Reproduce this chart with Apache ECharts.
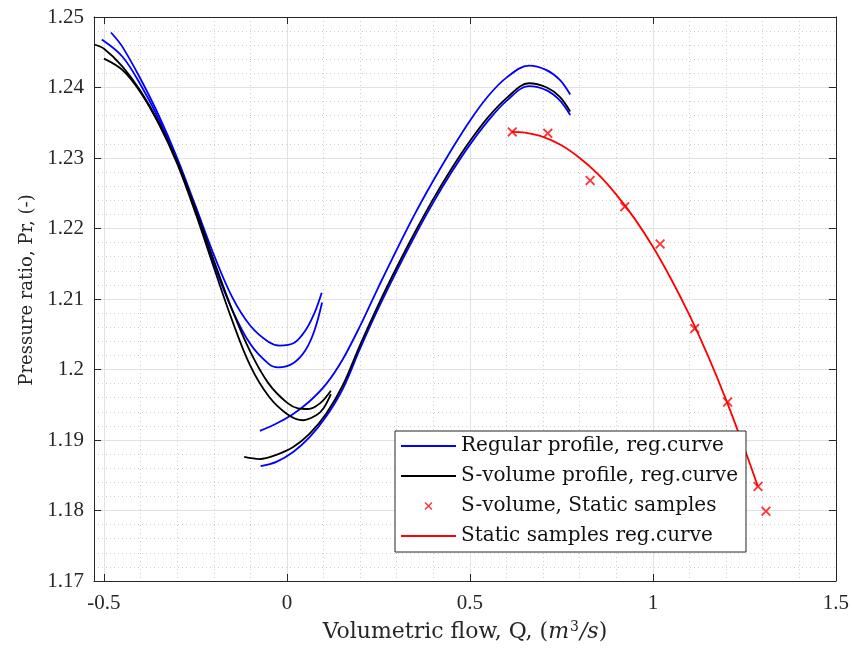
<!DOCTYPE html>
<html><head><meta charset="utf-8">
<script src="https://cdn.jsdelivr.net/npm/echarts@6/dist/echarts.min.js"></script>
<style>html,body{margin:0;padding:0;background:#fff}#c{width:852px;height:648px}</style>
</head><body><div id="c"></div>
<script>
// ---- data ----
const xAxisRange = [-0.5273, 1.5];
const yAxisRange = [1.17, 1.25];

// Regular profile (blue), left branches
const regUpperLeftX = [-0.481,-0.45,-0.40,-0.35,-0.30,-0.25,-0.20,-0.15,-0.10,-0.05,-0.02,0.02,0.05,0.075,0.095];
const regUpperLeftY = [1.2478,1.2458,1.2412,1.2360,1.2300,1.2232,1.2163,1.2103,1.2062,1.2039,1.2034,1.2038,1.2055,1.2080,1.2109];
const regLowerLeftX = [-0.506,-0.45,-0.40,-0.35,-0.30,-0.25,-0.20,-0.15,-0.10,-0.05,-0.024,0.017,0.05,0.075,0.096];
const regLowerLeftY = [1.2468,1.2444,1.2404,1.2355,1.2296,1.2225,1.2150,1.2085,1.2036,1.2008,1.2003,1.2009,1.2027,1.2055,1.2095];
// Regular profile (blue), right branches
const regUpperRightX = [-0.074,-0.03,0.017,0.062,0.108,0.153,0.20,0.25,0.30,0.35,0.40,0.45,0.50,0.55,0.60,0.661,0.708,0.745,0.774];
const regUpperRightY = [1.1913,1.1923,1.1937,1.1955,1.1980,1.2015,1.2062,1.2117,1.2170,1.2221,1.2268,1.2312,1.2353,1.2388,1.2414,1.2431,1.2425,1.2411,1.2390];
const regLowerRightX = [-0.072,-0.029,0.017,0.062,0.108,0.153,0.20,0.25,0.30,0.35,0.40,0.45,0.50,0.55,0.60,0.661,0.71,0.745,0.774];
const regLowerRightY = [1.1863,1.1869,1.1883,1.1904,1.1934,1.1973,1.2030,1.2087,1.2140,1.2190,1.2237,1.2280,1.2319,1.2353,1.2381,1.2402,1.2396,1.2382,1.2361];

// S-volume profile (black)
const svolAleftX = [-0.527,-0.50,-0.45,-0.40,-0.35,-0.30,-0.25,-0.20,-0.15,-0.10,-0.05,0.00,0.03,0.058,0.09,0.12];
const svolAleftY = [1.2461,1.2455,1.2430,1.2395,1.2350,1.2295,1.2228,1.2155,1.2085,1.2025,1.1980,1.1953,1.1945,1.1944,1.1952,1.1970];
const svolBleftX = [-0.500,-0.45,-0.40,-0.35,-0.30,-0.25,-0.20,-0.15,-0.10,-0.05,0.00,0.044,0.08,0.10,0.12];
const svolBleftY = [1.2441,1.2425,1.2393,1.2348,1.2292,1.2222,1.2145,1.2070,1.2005,1.1962,1.1937,1.1928,1.1935,1.1945,1.1965];
const svolRightX = [-0.117,-0.074,-0.029,0.017,0.062,0.108,0.153,0.20,0.25,0.30,0.35,0.40,0.45,0.50,0.55,0.60,0.661,0.71,0.745,0.774];
const svolRightY = [1.1876,1.1873,1.1879,1.1890,1.1909,1.1938,1.1978,1.2035,1.2092,1.2145,1.2195,1.2242,1.2285,1.2324,1.2358,1.2385,1.2406,1.2400,1.2387,1.2366];

// Static samples (red crosses)
const sampleX = [0.6156,0.7128,0.8285,0.9231,1.0197,1.1141,1.2042,1.2872,1.3090];
const sampleY = [1.2337,1.2335,1.2268,1.2231,1.2178,1.2058,1.1954,1.1834,1.1799];
// Static samples regression curve (red)
const staticCurveX = [0.615,0.65,0.70,0.75,0.80,0.85,0.90,0.95,1.00,1.05,1.10,1.15,1.20,1.25,1.287];
const staticCurveY = [1.2337,1.2336,1.2330,1.2318,1.2300,1.2277,1.2248,1.2214,1.2174,1.2128,1.2077,1.2020,1.1957,1.1888,1.1834];

const names = ['Regular profile, reg.curve','S-volume profile, reg.curve','S-volume, Static samples','Static samples reg.curve'];

// ---- build ----
const zip = (xs, ys) => xs.map((x, i) => [x, ys[i]]);
const crossPath = 'path://M0,1.3L1.3,0L5,3.7L8.7,0L10,1.3L6.3,5L10,8.7L8.7,10L5,6.3L1.3,10L0,8.7L3.7,5Z';
const crossLegend = 'path://M-4,-4M14,14M0,1.3L1.3,0L5,3.7L8.7,0L10,1.3L6.3,5L10,8.7L8.7,10L5,6.3L1.3,10L0,8.7L3.7,5Z';
const lineLegend = 'path://M0,0M55,14M0,6.1H55V7.9H0Z';

function line(name, color, xs, ys) {
  return {
    type: 'line', name, data: zip(xs, ys), showSymbol: false, symbol: 'none',
    smooth: 0.35, lineStyle: { color, width: 1.8 }, itemStyle: { color },
    emphasis: { disabled: true }, silent: true, z: 3
  };
}

const AX = '#262626';
const serif = 'Liberation Serif';
const tSerif = 'DejaVu Serif';

const baseX = {
  type: 'value', min: xAxisRange[0], max: xAxisRange[1],
  axisLine: { show: true, onZero: false, lineStyle: { color: AX, width: 1 } },
  axisTick: { show: true, inside: true, length: 7, lineStyle: { color: AX } },
  minorTick: { show: false, splitNumber: 5 },
};
const baseY = {
  type: 'value', min: yAxisRange[0], max: yAxisRange[1], interval: 0.01,
  axisLine: { show: true, onZero: false, lineStyle: { color: AX, width: 1 } },
  axisTick: { show: true, inside: true, length: 7, lineStyle: { color: AX } },
  minorTick: { show: false, splitNumber: 5 },
};

const chart = echarts.init(document.getElementById('c'), null, { renderer: 'canvas' });
chart.setOption({
  animation: false,
  backgroundColor: '#fff',
  grid: { left: 94, right: 15, top: 17, bottom: 67, containLabel: false },
  xAxis: [
    Object.assign({}, baseX, {
      position: 'bottom',
      name: '{t|Volumetric flow, Q, (}{i|m}{s|3}{i|/s}{t|)}',
      nameLocation: 'middle', nameGap: 39,
      nameTextStyle: { rich: {
        t: { fontFamily: tSerif, fontSize: 22, color: '#262626' },
        i: { fontFamily: tSerif, fontStyle: 'italic', fontSize: 22, color: '#262626' },
        s: { fontFamily: tSerif, fontSize: 14, color: '#262626', verticalAlign: 'top', padding: [0, 1, 10, 1] }
      } },
      axisLabel: {
        show: true, margin: 12, fontFamily: serif, fontSize: 21, color: '#262626',
        showMinLabel: false,
        formatter: v => (Math.abs(v * 2 - Math.round(v * 2)) > 1e-6 ? '' : String(+v.toFixed(2)))
      },
      splitLine: { show: true, lineStyle: { color: '#e2e2e2', width: 1 } },
      minorSplitLine: { show: true, lineStyle: { color: '#cdcdcd', width: 1, type: [1, 3] } }
    }),
    Object.assign({}, baseX, {
      position: 'top', axisLabel: { show: false }, splitLine: { show: false }, minorSplitLine: { show: false }
    })
  ],
  yAxis: [
    Object.assign({}, baseY, {
      position: 'left',
      name: 'Pressure ratio, Pr, (-)', nameLocation: 'middle', nameGap: 58,
      nameTextStyle: { fontFamily: tSerif, fontSize: 18, color: '#262626', padding: [0, 0, 0, 18] },
      axisLabel: { show: true, margin: 10, fontFamily: serif, fontSize: 21, color: '#262626' },
      splitLine: { show: true, lineStyle: { color: '#e2e2e2', width: 1 } },
      minorSplitLine: { show: true, lineStyle: { color: '#cdcdcd', width: 1, type: [1, 3] } }
    }),
    Object.assign({}, baseY, {
      position: 'right', axisLabel: { show: false }, splitLine: { show: false }, minorSplitLine: { show: false }
    })
  ],
  legend: {
    orient: 'vertical', left: 395, top: 431,
    itemWidth: 55, itemHeight: 14, itemGap: 8,
    padding: [4, 8, 5, 6],
    backgroundColor: '#fff', borderColor: AX, borderWidth: 1,
    selectedMode: false,
    textStyle: { fontFamily: tSerif, fontSize: 20, color: '#111', lineHeight: 22 },
    data: [
      { name: names[0], icon: lineLegend },
      { name: names[1], icon: lineLegend },
      { name: names[2], icon: crossLegend },
      { name: names[3], icon: lineLegend }
    ]
  },
  series: [
    line(names[0], '#0000ff', regUpperLeftX, regUpperLeftY),
    line(names[0], '#0000ff', regLowerLeftX, regLowerLeftY),
    line(names[0], '#0000ff', regUpperRightX, regUpperRightY),
    line(names[0], '#0000ff', regLowerRightX, regLowerRightY),
    line(names[1], '#000000', svolAleftX, svolAleftY),
    line(names[1], '#000000', svolBleftX, svolBleftY),
    line(names[1], '#000000', svolRightX, svolRightY),
    {
      type: 'scatter', name: names[2], data: zip(sampleX, sampleY),
      symbol: crossPath, symbolSize: 10, itemStyle: { color: '#ff0000' },
      emphasis: { disabled: true }, silent: true, z: 4
    },
    line(names[3], '#ff0000', staticCurveX, staticCurveY)
  ]
});
</script>
</body></html>
